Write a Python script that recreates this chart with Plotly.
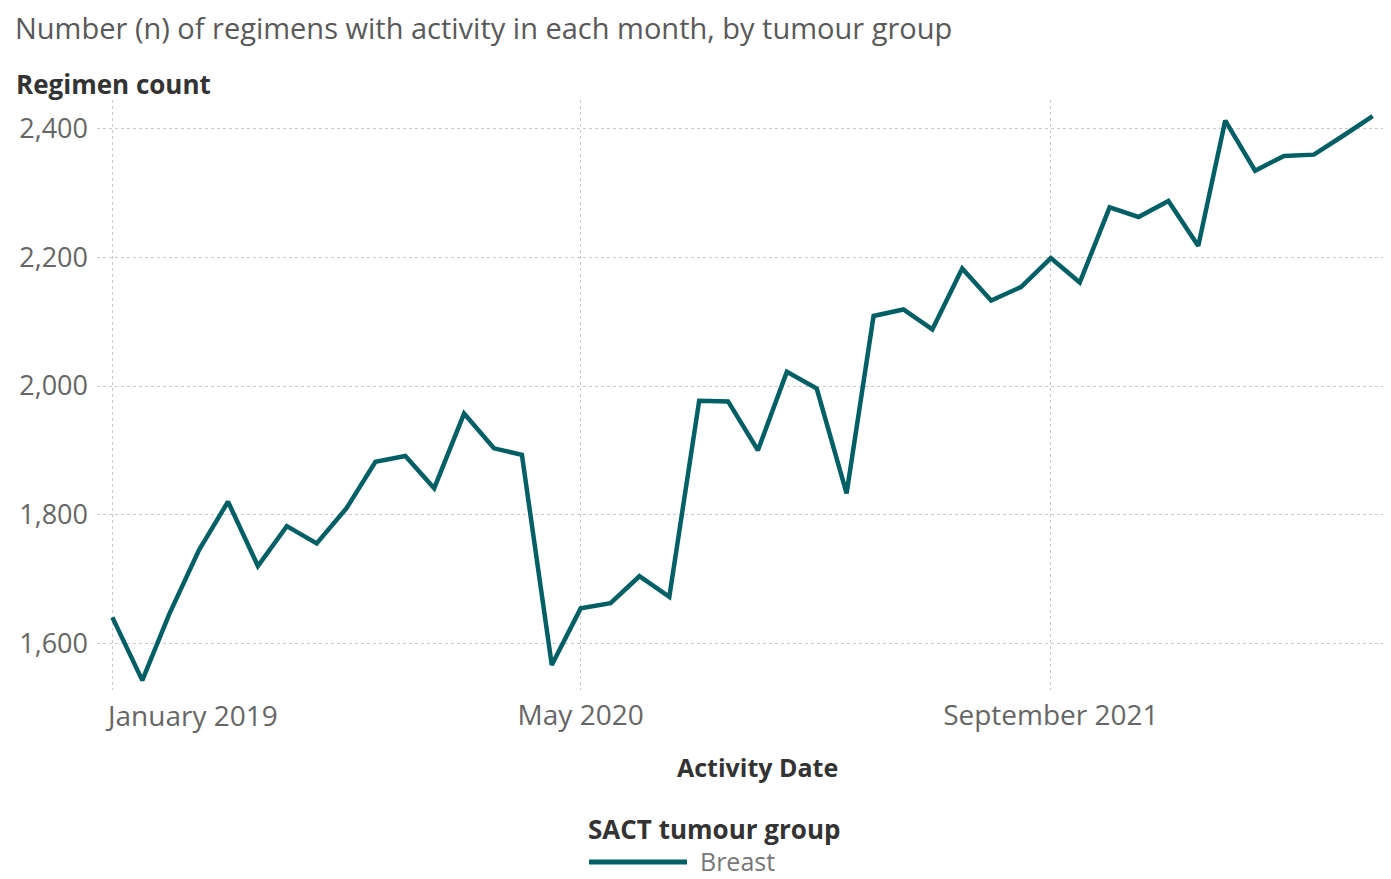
import plotly.graph_objects as go
import pandas as pd

dates = pd.date_range("2019-01-01", "2022-08-01", freq="MS").strftime("%Y-%m-%d").tolist()
breast = [1640, 1542, 1645, 1745, 1820, 1720, 1782, 1755, 1810, 1882, 1891, 1841,
          1957, 1903, 1893, 1566, 1654, 1662, 1704, 1672, 1977, 1976, 1900, 2022,
          1996, 1833, 2109, 2119, 2088, 2183, 2133, 2154, 2199, 2161, 2278, 2263,
          2288, 2218, 2413, 2335, 2358, 2360, 2389, 2420]

x_tick_vals = ["2019-01-01", "2020-05-01", "2021-09-01"]
x_tick_text = ["January 2019", "May 2020", "September 2021"]
y_tick_vals = [1600, 1800, 2000, 2200, 2400]
y_tick_text = ["1,600", "1,800", "2,000", "2,200", "2,400"]
series_name = "Breast"

FONT = "Open Sans"
LINE = "#035F66"
OFF = 8  # page body margin
W, H = 1391 - OFF, 879 - OFF
L, R, T, B = 97 - OFF, 1, 100 - OFF, 189
PW, PH = W - L - R, H - T - B


def px_x(px):
    return (px - OFF - L) / PW


def px_y(py):
    return (H - B - (py - OFF)) / PH


fig = go.Figure()
fig.add_trace(go.Scatter(x=dates, y=breast, mode="lines", name=series_name,
                         line=dict(color=LINE, width=4.5), showlegend=False))

fig.update_layout(
    width=W, height=H,
    margin=dict(l=L, r=R, t=T, b=B),
    paper_bgcolor="white", plot_bgcolor="white",
    font=dict(family=FONT, size=22, color="#666"),
    showlegend=False,
    xaxis=dict(type="date", range=["2018-12-16", "2022-08-19"], automargin=False,
               tickvals=x_tick_vals, ticktext=["", x_tick_text[1], x_tick_text[2]],
               showgrid=True, gridcolor="#c8c8c8", griddash="dot", gridwidth=1,
               zeroline=False, showline=False, ticks="", ticklabelstandoff=6,
               tickfont=dict(size=28, color="#666")),
    yaxis=dict(range=[1527, 2445], tickvals=y_tick_vals, ticktext=y_tick_text, automargin=False,
               showgrid=True, gridcolor="#c8c8c8", griddash="dot", gridwidth=1,
               zeroline=False, showline=False, ticks="", ticklabelstandoff=8,
               tickfont=dict(size=27, color="#666")),
    shapes=[
        dict(type="line", xref="paper", yref="paper", x0=px_x(589), x1=px_x(687),
             y0=px_y(862), y1=px_y(862), line=dict(color=LINE, width=5)),
    ],
    annotations=[
        dict(text="Number (n) of regimens with activity in each month, by tumour group",
             xref="paper", yref="paper", x=px_x(14), y=px_y(28), xanchor="left", yanchor="middle",
             showarrow=False, borderpad=0, font=dict(size=29, color="#595959")),
        dict(text="<b>Regimen count</b>", xref="paper", yref="paper", x=px_x(14),
             y=px_y(84), xanchor="left", yanchor="middle", showarrow=False,
             font=dict(size=26, color="#333")),
        dict(text=x_tick_text[0], xref="x", yref="paper", x=x_tick_vals[0], y=0,
             xanchor="left", yanchor="middle", xshift=-9, yshift=-25, showarrow=False,
             font=dict(size=28, color="#666")),
        dict(text="<b>Activity Date</b>", xref="paper", yref="paper", x=px_x(757), y=px_y(767),
             xanchor="center", yanchor="middle", showarrow=False,
             font=dict(size=25, color="#333")),
        dict(text="<b>SACT tumour group</b>", xref="paper", yref="paper", x=px_x(714), y=px_y(829),
             xanchor="center", yanchor="middle", showarrow=False,
             font=dict(size=26, color="#333")),
        dict(text=series_name, xref="paper", yref="paper", x=px_x(699), y=px_y(861),
             xanchor="left", yanchor="middle", showarrow=False, borderpad=0,
             font=dict(size=25, color="#777")),
    ],
)

fig.write_html("out.html")
